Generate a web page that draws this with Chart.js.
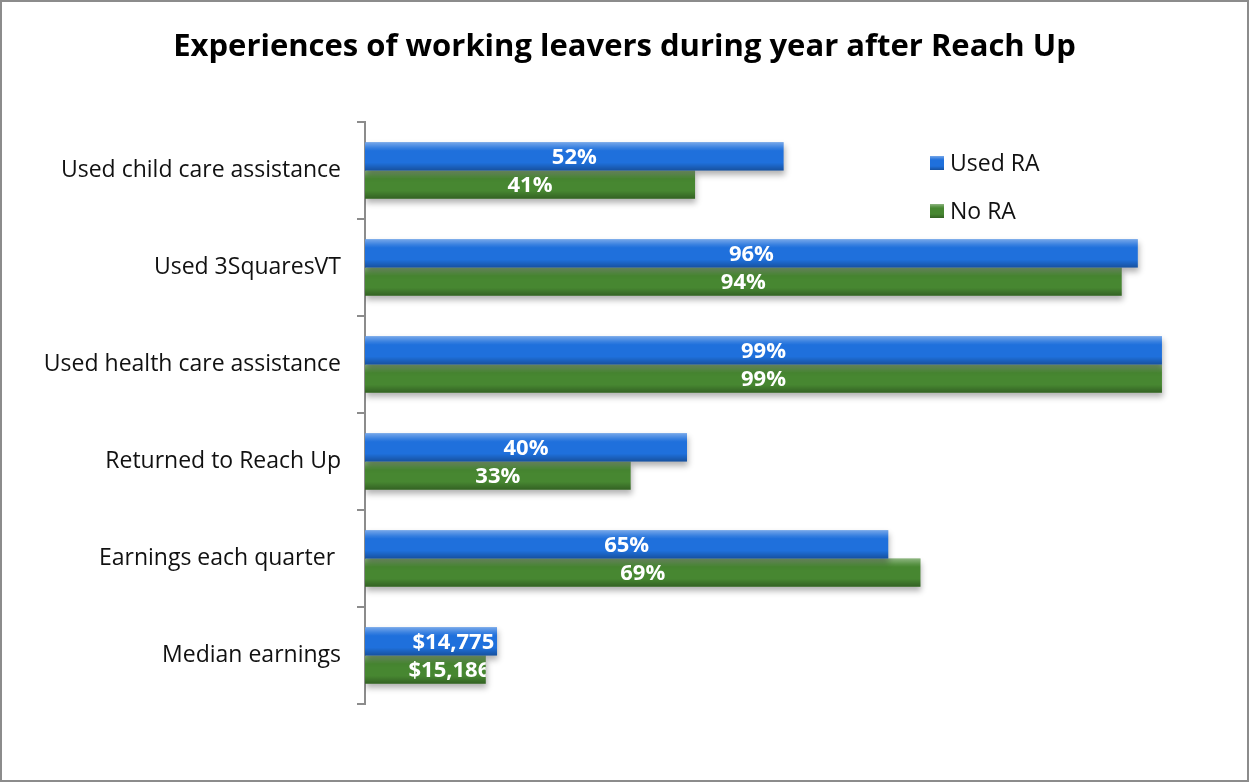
<!DOCTYPE html>
<html>
<head>
<meta charset="utf-8">
<script src="https://cdn.jsdelivr.net/npm/chart.js@4/dist/chart.umd.min.js"></script>
<style>
  body { margin: 0; background: #fff; }
  canvas { display: block; }
</style>
</head>
<body>
<canvas id="chart" width="1249" height="782"></canvas>
<script>
const chartTitle = "Experiences of working leavers during year after Reach Up";
const categories = [
    "Used child care assistance",
    "Used 3SquaresVT",
    "Used health care assistance",
    "Returned to Reach Up",
    "Earnings each quarter ",
    "Median earnings"
];
const usedRA = [52, 96, 99, 40, 65, 16.4];
const noRA = [41, 94, 99, 33, 69, 15.0];
const usedRALabels = ["52%", "96%", "99%", "40%", "65%", "$14,775"];
const noRALabels = ["41%", "94%", "99%", "33%", "69%", "$15,186"];
const seriesNames = ["Used RA", "No RA"];

const FONT = "'Open Sans', Lato, sans-serif";
const BLUE = "#1f70dc";
const GREEN = "#478731";

function shade(ctx, x, y, w, h) {
    const g = ctx.createLinearGradient(0, y, 0, y + h);
    g.addColorStop(0, "rgba(255,255,255,0.38)");
    g.addColorStop(0.2, "rgba(255,255,255,0.1)");
    g.addColorStop(0.3, "rgba(255,255,255,0)");
    g.addColorStop(0.72, "rgba(0,0,0,0)");
    g.addColorStop(1, "rgba(0,0,0,0.28)");
    ctx.fillStyle = g;
    ctx.fillRect(x, y, w, h);
}

// white background, page frame and the title centred on the whole picture
const framePlugin = {
    id: "frame",
    beforeDraw(chart) {
        const ctx = chart.ctx;
        ctx.save();
        ctx.fillStyle = "#fff";
        ctx.fillRect(0, 0, chart.width, chart.height);
        ctx.font = "bold 31px " + FONT;
        ctx.fillStyle = "#000";
        ctx.textAlign = "center";
        ctx.textBaseline = "middle";
        ctx.fillText(chartTitle, chart.width / 2, 47);
        ctx.restore();
    },
    afterDraw(chart) {
        const ctx = chart.ctx;
        ctx.save();
        ctx.strokeStyle = "#8c8c8c";
        ctx.lineWidth = 2;
        ctx.strokeRect(1, 1, chart.width - 2, chart.height - 2);
        ctx.restore();
    }
};

const barLook = {
    id: "barLook",
    beforeDatasetDraw(chart) {
        const ctx = chart.ctx;
        ctx.save();
        ctx.shadowColor = "rgba(0,0,0,0.3)";
        ctx.shadowBlur = 6;
        ctx.shadowOffsetY = 4;
        ctx.shadowOffsetX = 1;
    },
    afterDatasetDraw(chart, args) {
        const ctx = chart.ctx;
        ctx.restore();
        const meta = args.meta;
        ctx.save();
        meta.data.forEach(bar => {
            const p = bar.getProps(["x", "y", "base", "height"], true);
            shade(ctx, p.base, p.y - p.height / 2, p.x - p.base, p.height);
        });
        ctx.restore();
    },
    afterDatasetsDraw(chart) {
        const ctx = chart.ctx;
        const labelSets = [usedRALabels, noRALabels];
        ctx.save();
        ctx.font = "bold 22px " + FONT;
        ctx.fillStyle = "#fff";
        ctx.textBaseline = "middle";
        ctx.textAlign = "left";
        chart.data.datasets.forEach((ds, di) => {
            chart.getDatasetMeta(di).data.forEach((bar, i) => {
                const p = bar.getProps(["x", "y", "base", "height"], true);
                const w = p.x - p.base;
                const text = labelSets[di][i];
                const tw = ctx.measureText(text).width;
                let left = p.base + w / 2 - tw / 2;
                left = Math.max(left, p.base + w * 0.36);
                ctx.save();
                ctx.beginPath();
                ctx.rect(p.base, p.y - p.height / 2, w, p.height);
                ctx.clip();
                ctx.fillText(text, left, p.y + 1);
                ctx.restore();
            });
        });

        // legend
        ctx.font = "23px " + FONT;
        chart.data.datasets.forEach((ds, di) => {
            const cy = 163 + di * 48;
            ctx.fillStyle = ds.backgroundColor;
            ctx.fillRect(930, cy - 7, 14, 14);
            shade(ctx, 930, cy - 7, 14, 14);
            ctx.fillStyle = "#111";
            ctx.fillText(ds.label, 950, cy + 1);
        });
        ctx.restore();
    }
};

new Chart(document.getElementById("chart"), {
    type: "bar",
    data: {
        labels: categories,
        datasets: [
            { label: seriesNames[0], data: usedRA, backgroundColor: BLUE },
            { label: seriesNames[1], data: noRA, backgroundColor: GREEN }
        ]
    },
    options: {
        indexAxis: "y",
        responsive: false,
        animation: false,
        datasets: {
            bar: { categoryPercentage: 0.58, barPercentage: 1.0, borderWidth: 0 }
        },
        layout: { padding: { left: 10, right: 79, top: 122, bottom: 78 } },
        plugins: {
            legend: { display: false },
            tooltip: { enabled: false },
            title: { display: false }
        },
        scales: {
            x: { display: false, min: 0, max: 100 },
            y: {
                afterFit(scale) { scale.width = 355; },
                grid: {
                    display: true,
                    drawOnChartArea: false,
                    drawTicks: true,
                    tickLength: 8,
                    color: "#8c8c8c",
                    lineWidth: 2,
                    offset: true
                },
                border: { display: true, color: "#8c8c8c", width: 2 },
                ticks: {
                    color: "#111",
                    padding: 16,
                    font: { family: FONT, size: 23 }
                }
            }
        }
    },
    plugins: [framePlugin, barLook]
});
</script>
</body>
</html>
